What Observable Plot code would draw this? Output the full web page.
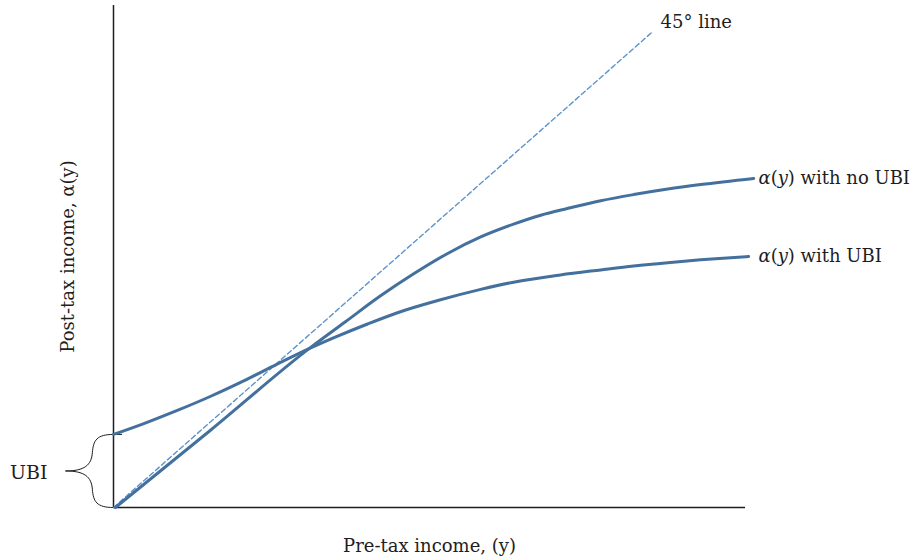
<!DOCTYPE html>
<html><head><meta charset="utf-8">
<script src="https://cdn.jsdelivr.net/npm/d3@7"></script>
<script src="https://cdn.jsdelivr.net/npm/@observablehq/plot@0.6"></script>
<style>body{margin:0;background:#fff} svg{display:block}</style>
</head><body><div id="chart"></div>
<script>
// Pre-tax income (x) and post-tax income (y)
const preTaxNoUBI  = [0.3, 15.3, 31.2, 36.7, 42.2, 47.5, 52.8, 58.1, 63.3, 67.6, 71.8, 77.1, 82.3, 87.7, 92.9, 101.3];
const postTaxNoUBI = [0,   13.8, 28.7, 33.3, 37.9, 41.9, 45.5, 48.5, 50.8, 52.4, 53.6, 55.0, 56.1, 57.1, 57.9, 59.0];
const preTaxUBI  = [0,    4.7,  10.1, 15.3, 20.6, 25.9, 31.2, 34.8, 40.2, 45.4, 51.3, 58.1, 63.3, 70.7, 77.1, 82.3, 87.7, 92.9, 100.5];
const postTaxUBI = [13.1, 15.0, 17.4, 19.9, 22.7, 25.7, 28.6, 30.4, 32.9, 35.1, 37.1, 39.1, 40.4, 41.7, 42.6, 43.3, 43.9, 44.4, 45.0];
const diagonalEnds = [0, 85.3];
const labels = {
  noUBI: "α(y) with no UBI",
  withUBI: "α(y) with UBI",
  diagonal: "45° line",
  ubi: "UBI",
  xAxis: "Pre-tax income, (y)",
  yAxis: "Post-tax income, α(y)"
};

const noUbi = preTaxNoUBI.map((x, i) => ({x, y: postTaxNoUBI[i]}));
const withUbi = preTaxUBI.map((x, i) => ({x, y: postTaxUBI[i]}));
const diag = diagonalEnds.map(v => ({x: v, y: v}));

// curly brace spanning the UBI intercept on the vertical axis
const ubi = postTaxUBI[0];
const braceW = 7.6;
function cubic(a, b, c, d, t) { const u = 1 - t; return u*u*u*a + 3*u*u*t*b + 3*u*t*t*c + t*t*t*d; }
const half = [[-0.17, 0]];
for (let i = 0; i <= 16; i++) { const t = i / 16; half.push([cubic(0, 0.35, 0.42, 0.44, t), cubic(0, 0, 0.08, 0.25, t)]); }
for (let i = 1; i <= 16; i++) { const t = i / 16; half.push([cubic(0.44, 0.46, 0.6, 1, t), cubic(0.25, 0.42, 0.5, 0.5, t)]); }
const brace = [
  ...half.map(([u, v]) => ({x: -u * braceW, y: ubi - v * ubi})),
  ...half.slice().reverse().map(([u, v]) => ({x: -u * braceW, y: v * ubi}))
];

const solid = "#44709e", dashed = "#5b93cf", ink = "#1e1e1e";
const plot = Plot.plot({
  width: 919, height: 560,
  marginLeft: 113, marginRight: 174, marginTop: 5, marginBottom: 53,
  x: {domain: [0, 100], axis: null},
  y: {domain: [0, 90], axis: null},
  style: {fontFamily: "'DejaVu Serif', serif", fontSize: "18px", color: ink, background: "#fff", overflow: "visible"},
  marks: [
    Plot.ruleX([0], {stroke: ink, strokeWidth: 1.5}),
    Plot.ruleY([0], {stroke: ink, strokeWidth: 1.5}),
    Plot.line(brace, {x: "x", y: "y", stroke: ink, strokeWidth: 1}),
    Plot.line(diag, {x: "x", y: "y", stroke: dashed, strokeWidth: 1.4, strokeDasharray: "5,3"}),
    Plot.line(withUbi, {x: "x", y: "y", stroke: solid, strokeWidth: 3, curve: "monotone-x"}),
    Plot.line(noUbi, {x: "x", y: "y", stroke: solid, strokeWidth: 3, curve: "monotone-x"}),
    Plot.text([labels.noUBI], {x: 100, y: postTaxNoUBI[postTaxNoUBI.length - 1], text: d => d, textAnchor: "start", dx: 13, fill: ink, fontSize: 18}),
    Plot.text([labels.withUBI], {x: 100, y: postTaxUBI[postTaxUBI.length - 1], text: d => d, textAnchor: "start", dx: 13, fill: ink, fontSize: 18}),
    Plot.text([labels.diagonal], {x: diagonalEnds[1], y: diagonalEnds[1], text: d => d, textAnchor: "start", dx: 8, dy: -9, fill: ink, fontSize: 18}),
    Plot.text([labels.ubi], {x: -braceW, y: ubi / 2, text: d => d, textAnchor: "end", dx: -18, dy: 2, fill: ink, fontSize: 19}),
    Plot.text([labels.xAxis], {x: 50, y: 0, text: d => d, dy: 39, fill: ink, fontSize: 18}),
    Plot.text([labels.yAxis], {x: 0, y: 45, text: d => d, dx: -45, rotate: -90, fill: ink, fontSize: 18})
  ]
});

// italicise the math symbols in the curve labels
d3.select(plot).selectAll("text").each(function() {
  const t = this.textContent;
  if (t.startsWith("α(y) with")) {
    const el = d3.select(this);
    el.text(null);
    el.append("tspan").attr("font-style", "italic").text("α");
    el.append("tspan").text("(");
    el.append("tspan").attr("font-style", "italic").text("y");
    el.append("tspan").text(t.slice(3));
  }
});

document.getElementById("chart").appendChild(plot);
</script>
</body></html>
